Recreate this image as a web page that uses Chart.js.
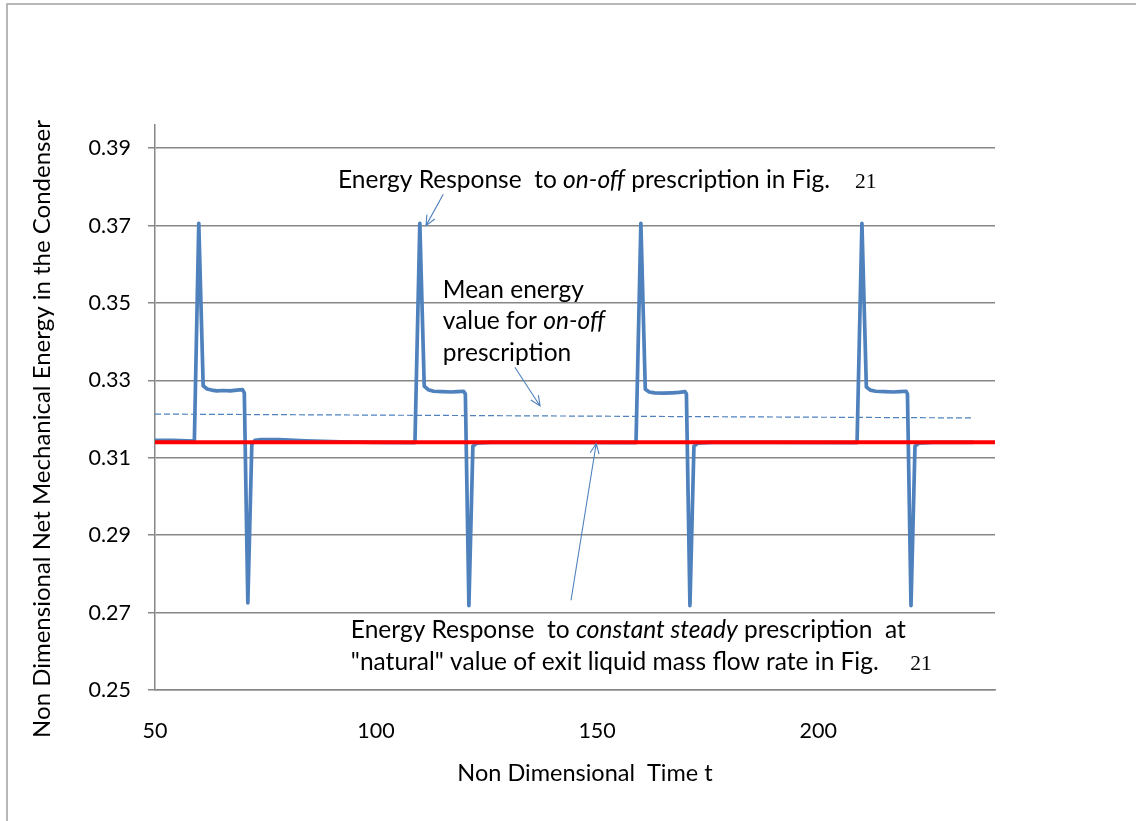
<!DOCTYPE html>
<html>
<head>
<meta charset="utf-8">
<title>Condenser energy response</title>
<script src="https://cdn.jsdelivr.net/npm/chart.js@4.4.1/dist/chart.umd.min.js"></script>
<style>
  html, body { margin: 0; padding: 0; background: #fff; }
  #chart { display: block; }
</style>
</head>
<body>
<canvas id="chart" width="1136" height="821"></canvas>
<script>
// on-off prescription: energy response over non dimensional time
var onOffTime = [
  50, 54, 58.9, 59.9, 60.9, 61.8, 62.8, 64, 65.5, 67, 68.5, 69.8, 70.2, 71, 71.9, 72.6, 74, 78, 84, 92, 100, 108.8,
  109.9, 110.9, 111.8, 113, 115, 117, 118.5, 119.8, 120.2, 121, 121.9, 122.8, 126, 140, 158.8,
  159.9, 160.9, 161.8, 163, 165, 167, 168.5, 169.9, 170.2, 171, 171.9, 172.8, 176, 190, 208.8,
  209.9, 210.9, 211.8, 213, 215, 217, 218.5, 219.9, 220.2, 221, 221.9, 222.8, 226, 235
];
var onOffEnergy = [
  0.3145, 0.3145, 0.3143, 0.3706, 0.3286, 0.3278, 0.3275, 0.3273, 0.3274, 0.3273, 0.3275, 0.3276, 0.3268, 0.2725, 0.3135, 0.3145, 0.3147, 0.3147, 0.3144, 0.3141, 0.3140, 0.3139,
  0.3706, 0.3285, 0.3276, 0.3272, 0.3271, 0.3270, 0.3271, 0.3272, 0.3265, 0.2718, 0.3130, 0.3138, 0.3140, 0.3140, 0.3139,
  0.3706, 0.3277, 0.3270, 0.3268, 0.3267, 0.3268, 0.3269, 0.3271, 0.3265, 0.2718, 0.3130, 0.3138, 0.3140, 0.3140, 0.3139,
  0.3706, 0.3283, 0.3275, 0.3272, 0.3271, 0.3270, 0.3271, 0.3272, 0.3265, 0.2718, 0.3130, 0.3138, 0.3140, 0.3140
];

// constant steady prescription at the natural exit flow rate
var steadyTime = [50, 240];
var steadyEnergy = [0.314, 0.314];

// mean of the on-off response
var meanTime = [50, 235];
var meanEnergy = [0.3213, 0.3203];

var xTicks = [50, 100, 150, 200];
var yTicks = [0.25, 0.27, 0.29, 0.31, 0.33, 0.35, 0.37, 0.39];

function toPoints(xs, ys) {
  return xs.map(function (x, i) { return { x: x, y: ys[i] }; });
}

var sans = 'Lato, "Open Sans", sans-serif';
var serif = '"Liberation Serif", "DejaVu Serif", serif';
var blue = '#4f81bd';
var axisGrey = '#878787';

// text callouts, anchored in data units
var noteFont = '24.5px ' + sans;
var noteItalic = 'italic 24.5px ' + sans;
var figFont = '21.5px ' + serif;

var notes = [
  { t: 91.4, v: 0.3796, runs: [
    ['Energy Response  to ', noteFont], ['on-off', noteItalic], [' prescription in Fig.    ', noteFont], ['21', figFont]
  ] },
  { t: 115.1, v: 0.3512, runs: [['Mean energy', noteFont]] },
  { t: 115.1, v: 0.3432, runs: [['value for ', noteFont], ['on-off', noteItalic]] },
  { t: 115.1, v: 0.3351, runs: [['prescription', noteFont]] },
  { t: 94.3, v: 0.2634, runs: [
    ['Energy Response  to ', noteFont], ['constant steady', noteItalic], [' prescription  at', noteFont]
  ] },
  { t: 94.3, v: 0.2552, runs: [
    ['"natural" value of exit liquid mass flow rate in Fig.     ', noteFont], ['21', figFont]
  ] }
];

var arrows = [
  { from: [115.2, 0.3781], to: [111.3, 0.3700] },
  { from: [131.4, 0.3334], to: [137.1, 0.3234] },
  { from: [144.1, 0.2732], to: [149.8, 0.3137] }
];

function drawArrow(ctx, x1, y1, x2, y2) {
  var ang = Math.atan2(y2 - y1, x2 - x1);
  var len = 11, spread = 0.42;
  ctx.beginPath();
  ctx.moveTo(x1, y1);
  ctx.lineTo(x2, y2);
  ctx.moveTo(x2 - len * Math.cos(ang - spread), y2 - len * Math.sin(ang - spread));
  ctx.lineTo(x2, y2);
  ctx.lineTo(x2 - len * Math.cos(ang + spread), y2 - len * Math.sin(ang + spread));
  ctx.stroke();
}

var figureDecor = {
  id: 'figureDecor',
  beforeDraw: function (chart) {
    var ctx = chart.ctx;
    ctx.save();
    ctx.strokeStyle = '#a0a0a0';
    ctx.lineWidth = 1.5;
    ctx.beginPath();
    ctx.moveTo(7, 821);
    ctx.lineTo(7, 4);
    ctx.lineTo(1136, 4);
    ctx.stroke();
    ctx.restore();
  },
  afterDraw: function (chart) {
    var ctx = chart.ctx;
    var xs = chart.scales.x, ys = chart.scales.y;
    ctx.save();
    ctx.fillStyle = '#000';
    ctx.textBaseline = 'alphabetic';
    ctx.textAlign = 'left';

    notes.forEach(function (n) {
      var x = xs.getPixelForValue(n.t);
      var y = ys.getPixelForValue(n.v);
      n.runs.forEach(function (r) {
        ctx.font = r[1];
        ctx.fillText(r[0], x, y);
        x += ctx.measureText(r[0]).width;
      });
    });

    ctx.strokeStyle = blue;
    ctx.lineWidth = 1.1;
    arrows.forEach(function (a) {
      drawArrow(ctx,
        xs.getPixelForValue(a.from[0]), ys.getPixelForValue(a.from[1]),
        xs.getPixelForValue(a.to[0]), ys.getPixelForValue(a.to[1]));
    });

    // axis titles
    ctx.textAlign = 'center';
    ctx.font = '23.5px ' + sans;
    ctx.fillText('Non Dimensional  Time t', 585, 781);
    ctx.font = '24px ' + sans;
    ctx.translate(50, 429);
    ctx.rotate(-Math.PI / 2);
    ctx.fillText('Non Dimensional Net Mechanical Energy in the Condenser', 0, 0);
    ctx.restore();
  }
};

var ctx = document.getElementById('chart').getContext('2d');
var chart = new Chart(ctx, {
  type: 'line',
  data: {
    datasets: [
      {
        label: 'Constant steady prescription',
        data: toPoints(steadyTime, steadyEnergy),
        borderColor: '#ff0000',
        borderWidth: 4,
        pointRadius: 0
      },
      {
        label: 'On-off prescription',
        data: toPoints(onOffTime, onOffEnergy),
        borderColor: blue,
        borderWidth: 3.7,
        borderJoinStyle: 'round',
        borderCapStyle: 'round',
        pointRadius: 0,
        tension: 0
      },
      {
        label: 'Mean of on-off response',
        data: toPoints(meanTime, meanEnergy),
        borderColor: blue,
        borderWidth: 1.2,
        borderDash: [6, 3],
        pointRadius: 0
      }
    ]
  },
  options: {
    responsive: false,
    animation: false,
    events: [],
    layout: { padding: { left: 0, right: 141, top: 125, bottom: 0 } },
    plugins: {
      legend: { display: false },
      tooltip: { enabled: false },
      title: { display: false }
    },
    scales: {
      x: {
        type: 'linear',
        min: 50,
        max: 240,
        afterBuildTicks: function (axis) {
          axis.ticks = xTicks.map(function (v) { return { value: v }; });
        },
        afterFit: function (axis) { axis.height = 131; },
        grid: { display: false, drawTicks: false },
        border: { display: true, color: axisGrey, width: 1.5 },
        ticks: {
          padding: 28,
          color: '#000',
          maxRotation: 0,
          autoSkip: false,
          font: { family: sans, size: 21.5 }
        }
      },
      y: {
        type: 'linear',
        min: 0.25,
        max: 0.396,
        afterBuildTicks: function (axis) {
          axis.ticks = yTicks.map(function (v) { return { value: v }; });
        },
        afterFit: function (axis) { axis.width = 155; },
        grid: { color: axisGrey, lineWidth: 1.5, drawTicks: true, tickLength: 7 },
        border: { display: true, color: axisGrey, width: 1.5 },
        ticks: {
          padding: 17,
          color: '#000',
          font: { family: sans, size: 21.5 },
          callback: function (v) { return v.toFixed(2); }
        }
      }
    }
  },
  plugins: [figureDecor]
});
</script>
</body>
</html>
